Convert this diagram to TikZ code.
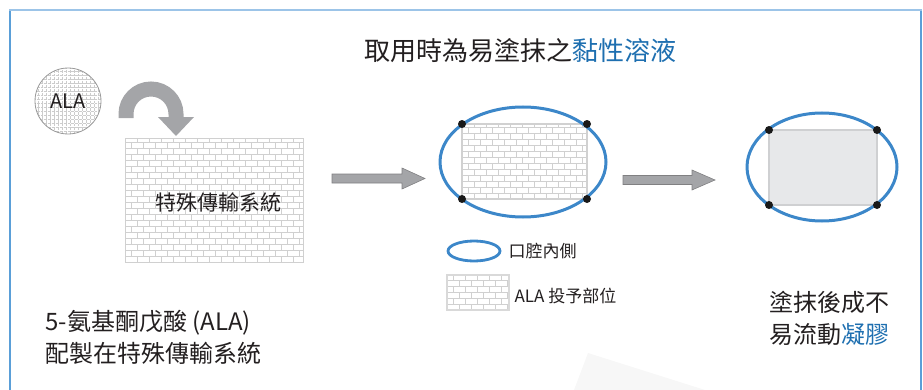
\documentclass[tikz,border=0pt]{standalone}
\usepackage{fontspec}
\setmainfont{Noto Sans CJK TC}
\usetikzlibrary{shapes.geometric}
\definecolor{frameblue}{HTML}{5A9FD8}
\definecolor{frametop}{HTML}{9CC4E8}
\definecolor{ovalblue}{HTML}{3C87C9}
\definecolor{textblue}{HTML}{1E6FB0}
\definecolor{arrowgray}{HTML}{A4A5A8}
\definecolor{arrowedge}{HTML}{808082}
\definecolor{brickline}{HTML}{D0D0D0}
\definecolor{gelgray}{HTML}{E7E8EA}
\definecolor{geledge}{HTML}{CFD0D2}
\definecolor{txt}{HTML}{231F20}
\newcommand{\brickfill}[4]{%
  \begin{scope}
    \clip (#1,#2) rectangle (#3,#4);
    \fill[white] (#1,#2) rectangle (#3,#4);
    \pgfmathtruncatemacro\nrows{(#4-#2)/6}
    \pgfmathtruncatemacro\ncols{(#3-#1)/12+1}
    \foreach \i in {0,...,\nrows}{
      \pgfmathsetmacro\yy{#2+6*\i}
      \pgfmathsetmacro\off{mod(\i,2)*6}
      \draw[brickline, line width=0.7pt] (#1,\yy) -- (#3,\yy);
      \foreach \j in {0,...,\ncols}{
        \pgfmathsetmacro\xx{#1+\off+12*\j}
        \draw[brickline, line width=0.7pt] (\xx,\yy) -- (\xx,\yy+6);
      }
    }
  \end{scope}}
\tikzset{
  bigtext/.style={font=\fontsize{24}{31}\selectfont, text=txt, anchor=west},
  legtext/.style={font=\fontsize{17}{20}\selectfont, text=txt, anchor=west},
  oval/.style={ellipse, draw=ovalblue, line width=3pt, inner sep=0pt},
  fatarrow/.style={fill=arrowgray, draw=arrowedge, line width=0.6pt},
  corner/.style={fill=black!90}
}
\begin{document}
\begin{tikzpicture}[x=1pt,y=1pt]
\useasboundingbox (0,0) rectangle (923,389);
% faint watermark
\fill[black!3] (588,36) -- (574,-1) -- (705,-1) -- cycle;
% frame
\draw[frameblue, line width=1.6pt] (10,-5) -- (10,379);
\draw[frameblue, line width=1.6pt] (921,-5) -- (921,379);
\draw[frametop, line width=1.8pt] (9.2,379) -- (921.8,379);
% title
\node[font=\fontsize{26}{30}\selectfont, text=txt] (title) at (520,338) {取用時為易塗抹之\textcolor{textblue}{黏性溶液}};
% ALA circle with grid
\begin{scope}
  \clip (68,288) circle (33);
  \fill[white] (68,288) circle (33);
  \foreach \k in {0,...,17}{
    \draw[black!20, line width=0.35pt, densely dotted] (34+4*\k,250) -- (34+4*\k,326);
    \draw[black!20, line width=0.35pt, densely dotted] (30,254+4*\k) -- (106,254+4*\k);
  }
\end{scope}
\node[circle, draw=black!40, line width=0.8pt, minimum size=66pt, inner sep=0pt, font=\fontsize{20}{23}\selectfont, text=txt] (ala) at (68,288) {ALA};
% curved arrow
\coordinate (cstart) at (126,271);
\coordinate (cend) at (176,271);
\draw[arrowgray, line width=15pt] (cstart) -- (126,275) arc[start angle=180, end angle=0, radius=25] -- (cend);
\fill[arrowgray] (158,272) -- (194,272) -- (176,253) -- cycle;
% delivery system box
\brickfill{125}{127}{303}{251}
\node[draw=brickline, line width=1pt, minimum width=178pt, minimum height=124pt, inner sep=0pt] (sys) at (214,189) {};
\node[font=\fontsize{21}{24}\selectfont, text=txt] (systext) at (218,187) {特殊傳輸系統};
% arrow 1
\filldraw[fatarrow] (332,206) -- (402,206) -- (402,200) -- (425,210.5) -- (402,221) -- (402,215) -- (332,215) -- cycle;
% middle: oral with bricks
\brickfill{462}{190}{587}{265}
\draw[black!18, line width=1.5pt] (462,190) rectangle (587,265);
\node[oval, minimum width=166pt, minimum height=110pt] (oral1) at (523,227) {};
\foreach \p in {(462,190),(587,190),(462,265),(587,265)} \fill[corner] \p circle (4);
% arrow 2
\filldraw[fatarrow] (623,204.5) -- (692,204.5) -- (692,199) -- (715,209) -- (692,219) -- (692,213.5) -- (623,213.5) -- cycle;
% right: gel
\filldraw[fill=gelgray, draw=geledge, line width=2.5pt] (769,184) rectangle (877,259);
\node[oval, minimum width=150pt, minimum height=108pt] (oral2) at (822,222) {};
\foreach \p in {(769,184),(877,184),(769,259),(877,259)} \fill[corner] \p circle (4);
% legend
\node[ellipse, draw=ovalblue, line width=2.8pt, inner sep=0pt, minimum width=52pt, minimum height=20pt] (legoval) at (474,138) {};
\node[legtext] (legoraltext) at (505,138) {口腔內側};
\brickfill{447}{79}{509}{114}
\draw[black!15, line width=1.5pt] (447,79) rectangle (509,114);
\node[legtext] (legbricktext) at (511,93) {ALA 投予部位};
% bottom texts
\node[bigtext] (left1) at (42,66) {5-氨基酮戊酸 (ALA)};
\node[bigtext] (left2) at (42,36) {配製在特殊傳輸系統};
\node[bigtext] (right1) at (766,87) {塗抹後成不};
\node[bigtext] (right2) at (766,55) {易流動\textcolor{textblue}{凝膠}};
\end{tikzpicture}
\end{document}
